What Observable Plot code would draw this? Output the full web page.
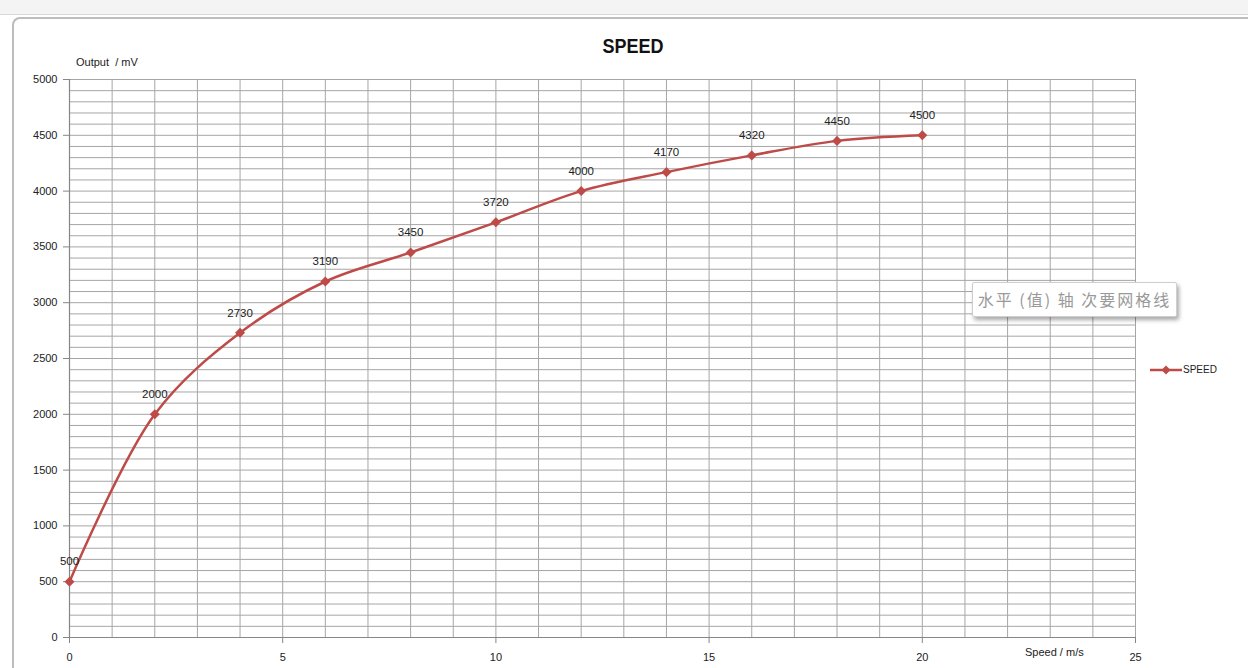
<!DOCTYPE html>
<html><head><meta charset="utf-8">
<script src="https://cdn.jsdelivr.net/npm/d3@7"></script>
<script src="https://cdn.jsdelivr.net/npm/@observablehq/plot@0.6"></script>
<style>
html,body{margin:0;padding:0;background:#fff;overflow:hidden}
#wrap{position:relative;width:1248px;height:668px;font-family:"Liberation Sans",Arial,sans-serif}
#chart{position:absolute;left:0;top:0}
.abs{position:absolute;white-space:nowrap}
</style></head>
<body><div id="wrap">
<div class="abs" style="left:0;top:0;width:1248px;height:14px;background:#f4f4f4;border-bottom:1px solid #d8d8d8"></div>
<div class="abs" style="left:12px;top:17px;width:1240px;height:660px;border-left:2px solid #bdbdbd;border-top:2px solid #bdbdbd;border-top-left-radius:8px;background:#fff"></div>
<div id="chart" class="abs"></div>
<div class="abs" style="left:0;width:1266px;top:35px;text-align:center;font-weight:bold;font-size:20px;color:#111;font-family:'Liberation Sans Narrow','Liberation Sans',sans-serif;transform:scaleX(0.9)">SPEED</div>
<div class="abs" style="left:76px;top:56px;font-size:11px;color:#222">Output&nbsp; / mV</div>
<div class="abs" style="left:1025px;top:646px;font-size:11px;color:#222">Speed / m/s</div>
<div class="abs" style="left:972px;top:282px;width:203px;height:33px;background:#fff;border:1px solid #cfcfcf;border-radius:2px;box-shadow:2px 3px 4px rgba(0,0,0,0.35);font-size:16px;letter-spacing:2px;color:#999;line-height:33px;text-align:center;font-family:'Noto Sans CJK SC',sans-serif">水平 (值) 轴 次要网格线</div>
<svg class="abs" style="left:1148px;top:362px" width="40" height="16"><line x1="2" y1="8" x2="34" y2="8" stroke="#be4b48" stroke-width="2.5"/><path d="M18,3.5 L22.5,8 L18,12.5 L13.5,8Z" fill="#be4b48"/></svg>
<div class="abs" style="left:1183px;top:364px;font-size:10px;color:#222">SPEED</div>
</div>
<script>
const speeds = [0, 2, 4, 6, 8, 10, 12, 14, 16, 18, 20];
const outputs = [500, 2000, 2730, 3190, 3450, 3720, 4000, 4170, 4320, 4450, 4500];
const xTicks = [0, 5, 10, 15, 20, 25];
const yTicks = [0, 500, 1000, 1500, 2000, 2500, 3000, 3500, 4000, 4500, 5000];
const xGrid = d3.range(0, 26, 1);
const yGrid = d3.range(0, 5001, 100);
const data = speeds.map((s, i) => ({speed: s, output: outputs[i]}));
const red = "#be4b48";
const chart = Plot.plot({
  width: 1248, height: 668,
  marginLeft: 69, marginRight: 113, marginTop: 79, marginBottom: 31,
  style: {background: "transparent", fontFamily: "Liberation Sans, Arial, sans-serif", fontSize: "11px", color: "#222"},
  x: {domain: [0, 25]},
  y: {domain: [0, 5000]},
  marks: [
    Plot.ruleY(yGrid, {stroke: "#a6a6a6", strokeWidth: 1}),
    Plot.ruleX(xGrid, {stroke: "#a6a6a6", strokeWidth: 1}),
    Plot.ruleX([0], {stroke: "#868686", strokeWidth: 1.2}),
    Plot.ruleY([0], {stroke: "#868686", strokeWidth: 1.2}),
    Plot.axisX({ticks: xTicks, tickSize: 6, tickPadding: 10, stroke: "#868686", label: null, fontSize: 11, tickFormat: d => String(d)}),
    Plot.axisY({ticks: yTicks, tickSize: 6, tickPadding: 6, stroke: "#868686", label: null, fontSize: 11, tickFormat: d => String(d)}),
    Plot.line(data, {x: "speed", y: "output", stroke: red, strokeWidth: 2.5, curve: "catmull-rom"}),
    Plot.dot(data, {x: "speed", y: "output", symbol: "square", rotate: 45, r: 4, fill: red, stroke: "none"}),
    Plot.text(data, {x: "speed", y: "output", text: d => String(d.output), dy: -20, fontSize: 11.5, fill: "#222"})
  ]
});
document.getElementById("chart").appendChild(chart);
</script>
</body></html>
